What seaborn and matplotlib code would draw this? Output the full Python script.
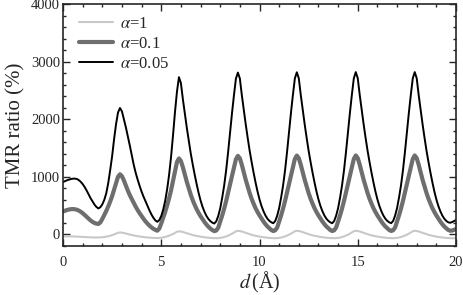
import numpy as np
import pandas as pd
import matplotlib
matplotlib.use("Agg")
import matplotlib.pyplot as plt
from matplotlib.ticker import MultipleLocator
import seaborn as sns

# sampling grid along d (Angstrom), step 0.1
d = np.round(np.linspace(0, 20, 201), 1)

# TMR ratio (%), alpha = 0.05
tmr_a005 = [
    910, 925, 940, 952, 962, 968, 970, 963, 945, 915,
    875, 825, 765, 700, 632, 575, 520, 478, 452, 473,
    522, 600, 713, 888, 1114, 1358, 1655, 1916, 2117, 2195,
    2136, 1998, 1859, 1701, 1543, 1375, 1208, 1069, 951, 842,
    743, 655, 575, 497, 418, 348, 289, 244, 220, 250,
    320, 433, 584, 785, 1036, 1350, 1726, 2128, 2479, 2730,
    2628, 2349, 2095, 1854, 1625, 1409, 1219, 1041, 876, 723,
    591, 482, 393, 322, 269, 231, 205, 190, 229, 321,
    452, 635, 845, 1107, 1421, 1762, 2103, 2417, 2705, 2810,
    2708, 2420, 2158, 1910, 1674, 1452, 1255, 1072, 901, 745,
    609, 496, 405, 331, 276, 237, 211, 195, 234, 326,
    457, 640, 850, 1112, 1426, 1767, 2108, 2422, 2710, 2815,
    2710, 2422, 2160, 1911, 1675, 1453, 1256, 1073, 902, 745,
    609, 496, 405, 331, 276, 237, 211, 195, 234, 326,
    457, 640, 850, 1112, 1426, 1767, 2108, 2422, 2710, 2818,
    2712, 2423, 2160, 1911, 1675, 1453, 1256, 1073, 902, 745,
    609, 496, 405, 331, 276, 237, 211, 196, 234, 326,
    457, 640, 850, 1112, 1426, 1767, 2108, 2422, 2710, 2818,
    2712, 2423, 2160, 1911, 1675, 1453, 1256, 1073, 902, 745,
    609, 496, 405, 331, 276, 237, 212, 203, 215, 232,
    252,
]

# alpha = 0.1
tmr_a01 = [
    400, 412, 424, 433, 439, 441, 438, 430, 415, 395,
    370, 340, 308, 275, 245, 220, 200, 188, 183, 209,
    269, 338, 407, 485, 571, 666, 778, 890, 1002, 1045,
    1011, 937, 849, 761, 682, 614, 545, 482, 423, 369,
    320, 271, 227, 188, 153, 124, 99, 80, 65, 103,
    191, 291, 391, 504, 630, 768, 931, 1094, 1257, 1320,
    1276, 1168, 1041, 914, 800, 692, 597, 515, 439, 375,
    318, 268, 217, 172, 134, 103, 77, 58, 69, 118,
    223, 328, 446, 577, 722, 866, 1010, 1161, 1306, 1365,
    1322, 1210, 1080, 948, 830, 718, 619, 534, 455, 390,
    331, 279, 226, 180, 140, 108, 78, 60, 72, 121,
    226, 331, 450, 581, 726, 870, 1015, 1166, 1311, 1370,
    1324, 1212, 1081, 949, 831, 719, 620, 535, 456, 390,
    331, 279, 226, 180, 140, 108, 78, 60, 72, 121,
    226, 331, 450, 581, 726, 870, 1015, 1166, 1311, 1372,
    1325, 1213, 1082, 949, 831, 719, 620, 535, 456, 390,
    331, 279, 226, 180, 140, 108, 78, 61, 72, 121,
    226, 331, 450, 581, 726, 870, 1015, 1166, 1311, 1372,
    1325, 1213, 1082, 949, 831, 719, 620, 535, 456, 390,
    331, 279, 226, 180, 140, 108, 80, 65, 68, 80,
    95,
]

# alpha = 1
tmr_a1 = [
    -35, -34, -33, -33, -33, -34, -35, -37, -39, -41,
    -43, -45, -47, -49, -50, -51, -52, -52, -52, -51,
    -48, -44, -38, -31, -22, -11, 1, 15, 29, 35,
    32, 25, 17, 7, -2, -10, -17, -24, -30, -35,
    -40, -45, -49, -52, -55, -58, -60, -61, -62, -61,
    -57, -51, -43, -33, -21, -7, 9, 28, 47, 55,
    51, 43, 32, 20, 9, -1, -10, -18, -25, -32,
    -38, -44, -49, -53, -57, -60, -62, -64, -65, -63,
    -59, -53, -45, -34, -20, -5, 13, 34, 54, 63,
    60, 52, 40, 27, 15, 4, -6, -15, -23, -30,
    -37, -43, -48, -52, -56, -60, -62, -64, -65, -63,
    -59, -53, -44, -33, -19, -4, 14, 35, 56, 65,
    60, 52, 40, 27, 15, 4, -6, -15, -23, -30,
    -37, -43, -48, -52, -56, -60, -62, -64, -65, -63,
    -59, -53, -44, -33, -19, -4, 14, 35, 56, 65,
    60, 52, 40, 27, 15, 4, -6, -15, -23, -30,
    -37, -43, -48, -52, -56, -60, -62, -64, -65, -63,
    -59, -53, -44, -33, -19, -4, 14, 35, 56, 65,
    60, 52, 40, 27, 15, 4, -6, -15, -23, -30,
    -37, -43, -48, -52, -56, -60, -62, -64, -65, -65,
    -64,
]

labels = [r"$\alpha$=1", r"$\alpha$=0.1", r"$\alpha$=0.05"]

df = pd.DataFrame({"d": d, "a1": tmr_a1, "a01": tmr_a01, "a005": tmr_a005})

sns.set_style("ticks")
plt.rcParams["font.family"] = ["Liberation Serif", "DejaVu Serif"]
plt.rcParams["mathtext.fontset"] = "stix"
plt.rcParams["xtick.direction"] = "in"
plt.rcParams["ytick.direction"] = "in"
plt.rcParams["lines.solid_joinstyle"] = "round"

fig = plt.figure(figsize=(4.64, 2.95), dpi=100)
ax = fig.add_axes([63 / 464, 1 - 246 / 295, (456 - 63) / 464, (246 - 4) / 295])

sns.lineplot(data=df, x="d", y="a1", ax=ax, color="#c8c8c8", lw=1.5, label=labels[0])
sns.lineplot(data=df, x="d", y="a01", ax=ax, color="#6e6e6e", lw=3.0, label=labels[1])
sns.lineplot(data=df, x="d", y="a005", ax=ax, color="black", lw=1.4, label=labels[2])

ax.set_xlim(0, 20)
ax.set_ylim(-200, 4000)
ax.xaxis.set_major_locator(MultipleLocator(5))
ax.xaxis.set_minor_locator(MultipleLocator(1))
ax.yaxis.set_major_locator(MultipleLocator(1000))
ax.yaxis.set_minor_locator(MultipleLocator(200))
ax.tick_params(which="both", top=True, right=True, labelsize=10.5, width=1.0)
ax.tick_params(which="major", length=5)
ax.tick_params(which="minor", length=2.5)
ax.tick_params(axis="x", which="major", pad=7)
ax.tick_params(axis="y", which="major", pad=2)
for s in ax.spines.values():
    s.set_linewidth(1.2)

ax.set_xlabel(r"$d\,$(Å)", fontsize=14.5, labelpad=1)
ax.set_ylabel("TMR ratio (%)", fontsize=15, labelpad=4)

ax.legend(loc="upper left", frameon=False, fontsize=12, handlelength=2.0,
          handletextpad=0.45, labelspacing=0.25, borderaxespad=0.3,
          bbox_to_anchor=(0.012, 1.0))

fig.savefig("out.png", dpi=100)
